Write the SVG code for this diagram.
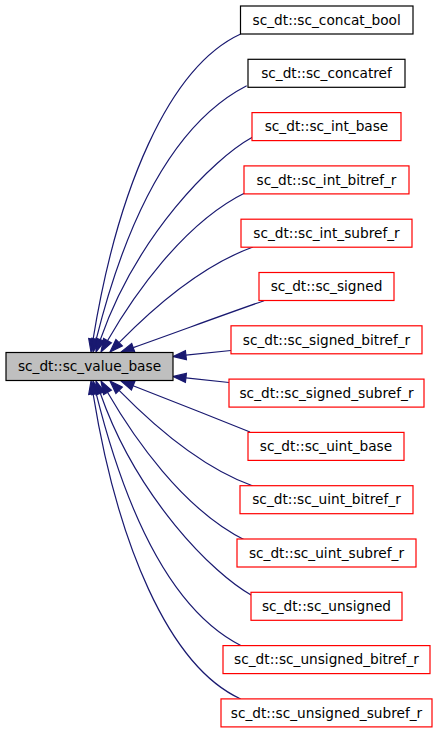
<svg xmlns="http://www.w3.org/2000/svg" width="437" height="733" viewBox="0 0 437 733">
<style>
.n rect{fill:#fff;stroke:#f00;stroke-width:1.2}
.n.b rect{stroke:#000}
#main rect{fill:#bfbfbf;stroke:#000;stroke-width:1.2}
text{font-family:"DejaVu Sans","Liberation Sans",sans-serif;font-size:13.7px;fill:#000;text-anchor:middle}
#edges path{fill:none;stroke:#191970;stroke-width:1.2}
#edges polygon{fill:#191970;stroke:#191970;stroke-width:1.2}
</style>
<rect width="437" height="733" fill="#fff"/>
<g id="edges">
<path d="M240.7,34 C168,67.4 117.1,191.2 93.1,339.2"/><polygon points="97.5,339.9 91,352 88.7,338.5"/>
<path d="M246.7,85.7 C180,120 130.2,203.6 96.2,339.4"/><polygon points="100.6,340.5 93,352 91.8,338.3"/>
<path d="M252.3,137.3 C212.9,159 136.6,235.9 100.3,339.7"/><polygon points="104.5,341.2 96,352 96.1,338.2"/>
<path d="M245.7,192.5 C182.8,223.3 132.5,297.4 107.5,340.7"/><polygon points="111.4,342.9 101,352 103.6,338.5"/>
<path d="M253,247 C196.6,267.4 147.1,314.1 119.1,342.7"/><polygon points="122.3,345.9 110,352 115.9,339.5"/>
<path d="M264,300.7 C220,316 180,331 133.2,347.6"/><polygon points="134.7,351.8 121,352 131.7,343.4"/>
<path d="M231,350.5 L185.9,355.2"/><polygon points="186.4,359.7 173,356.5 185.4,350.7"/>
<path d="M229,382.5 L185.9,377.9"/><polygon points="186.4,373.4 173,376.5 185.4,382.4"/>
<path d="M250,432 C210,416 175,402 133.1,385.8"/><polygon points="134.8,381.6 121,381 131.4,390"/>
<path d="M253,486 C196.6,465.6 147.1,418.9 119.1,390.3"/><polygon points="122.3,387.1 110,381 115.9,393.5"/>
<path d="M245.7,540.5 C182.8,509.7 132.5,435.6 107.5,392.3"/><polygon points="111.4,390.1 101,381 103.6,394.5"/>
<path d="M252.3,595.7 C212.9,574 136.6,497.1 100.3,393.3"/><polygon points="104.5,391.8 96,381 96.1,394.8"/>
<path d="M241.7,646 C178,614 130.2,529.4 96.2,393.6"/><polygon points="100.6,392.5 93,381 91.8,394.7"/>
<path d="M240.7,699 C168,665.6 117.1,541.8 93.1,393.8"/><polygon points="97.5,393.1 91,381 88.7,394.5"/>
</g>
<g id="main"><rect x="6" y="352.5" width="167" height="28"/><text x="89.5" y="371.2">sc_dt::sc_value_base</text></g>
<g id="n1" class="n b"><rect x="240.5" y="6" width="172.5" height="28"/><text x="326.7" y="24.7">sc_dt::sc_concat_bool</text></g>
<g id="n2" class="n b"><rect x="248" y="59.3" width="157" height="28"/><text x="326.5" y="78">sc_dt::sc_concatref</text></g>
<g id="n3" class="n"><rect x="252" y="112.6" width="149" height="28"/><text x="326.5" y="131.3">sc_dt::sc_int_base</text></g>
<g id="n4" class="n"><rect x="244" y="165.9" width="165" height="28"/><text x="326.5" y="184.6">sc_dt::sc_int_bitref_r</text></g>
<g id="n5" class="n"><rect x="241" y="219.2" width="171" height="28"/><text x="326.5" y="237.9">sc_dt::sc_int_subref_r</text></g>
<g id="n6" class="n"><rect x="259" y="272.5" width="135" height="28"/><text x="326.5" y="291.2">sc_dt::sc_signed</text></g>
<g id="n7" class="n"><rect x="231" y="325.8" width="191" height="28"/><text x="326.5" y="344.5">sc_dt::sc_signed_bitref_r</text></g>
<g id="n8" class="n"><rect x="229" y="379.1" width="195" height="28"/><text x="326.5" y="397.8">sc_dt::sc_signed_subref_r</text></g>
<g id="n9" class="n"><rect x="248" y="432.4" width="156" height="28"/><text x="326" y="451.1">sc_dt::sc_uint_base</text></g>
<g id="n10" class="n"><rect x="240" y="485.7" width="173" height="28"/><text x="326.5" y="504.4">sc_dt::sc_uint_bitref_r</text></g>
<g id="n11" class="n"><rect x="237" y="539" width="179" height="28"/><text x="326.5" y="557.7">sc_dt::sc_uint_subref_r</text></g>
<g id="n12" class="n"><rect x="251" y="592.3" width="151" height="28"/><text x="326.5" y="611">sc_dt::sc_unsigned</text></g>
<g id="n13" class="n"><rect x="223" y="645.6" width="207" height="28"/><text x="326.5" y="664.3">sc_dt::sc_unsigned_bitref_r</text></g>
<g id="n14" class="n"><rect x="221" y="698.9" width="211" height="28"/><text x="326.5" y="717.6">sc_dt::sc_unsigned_subref_r</text></g>
</svg>
